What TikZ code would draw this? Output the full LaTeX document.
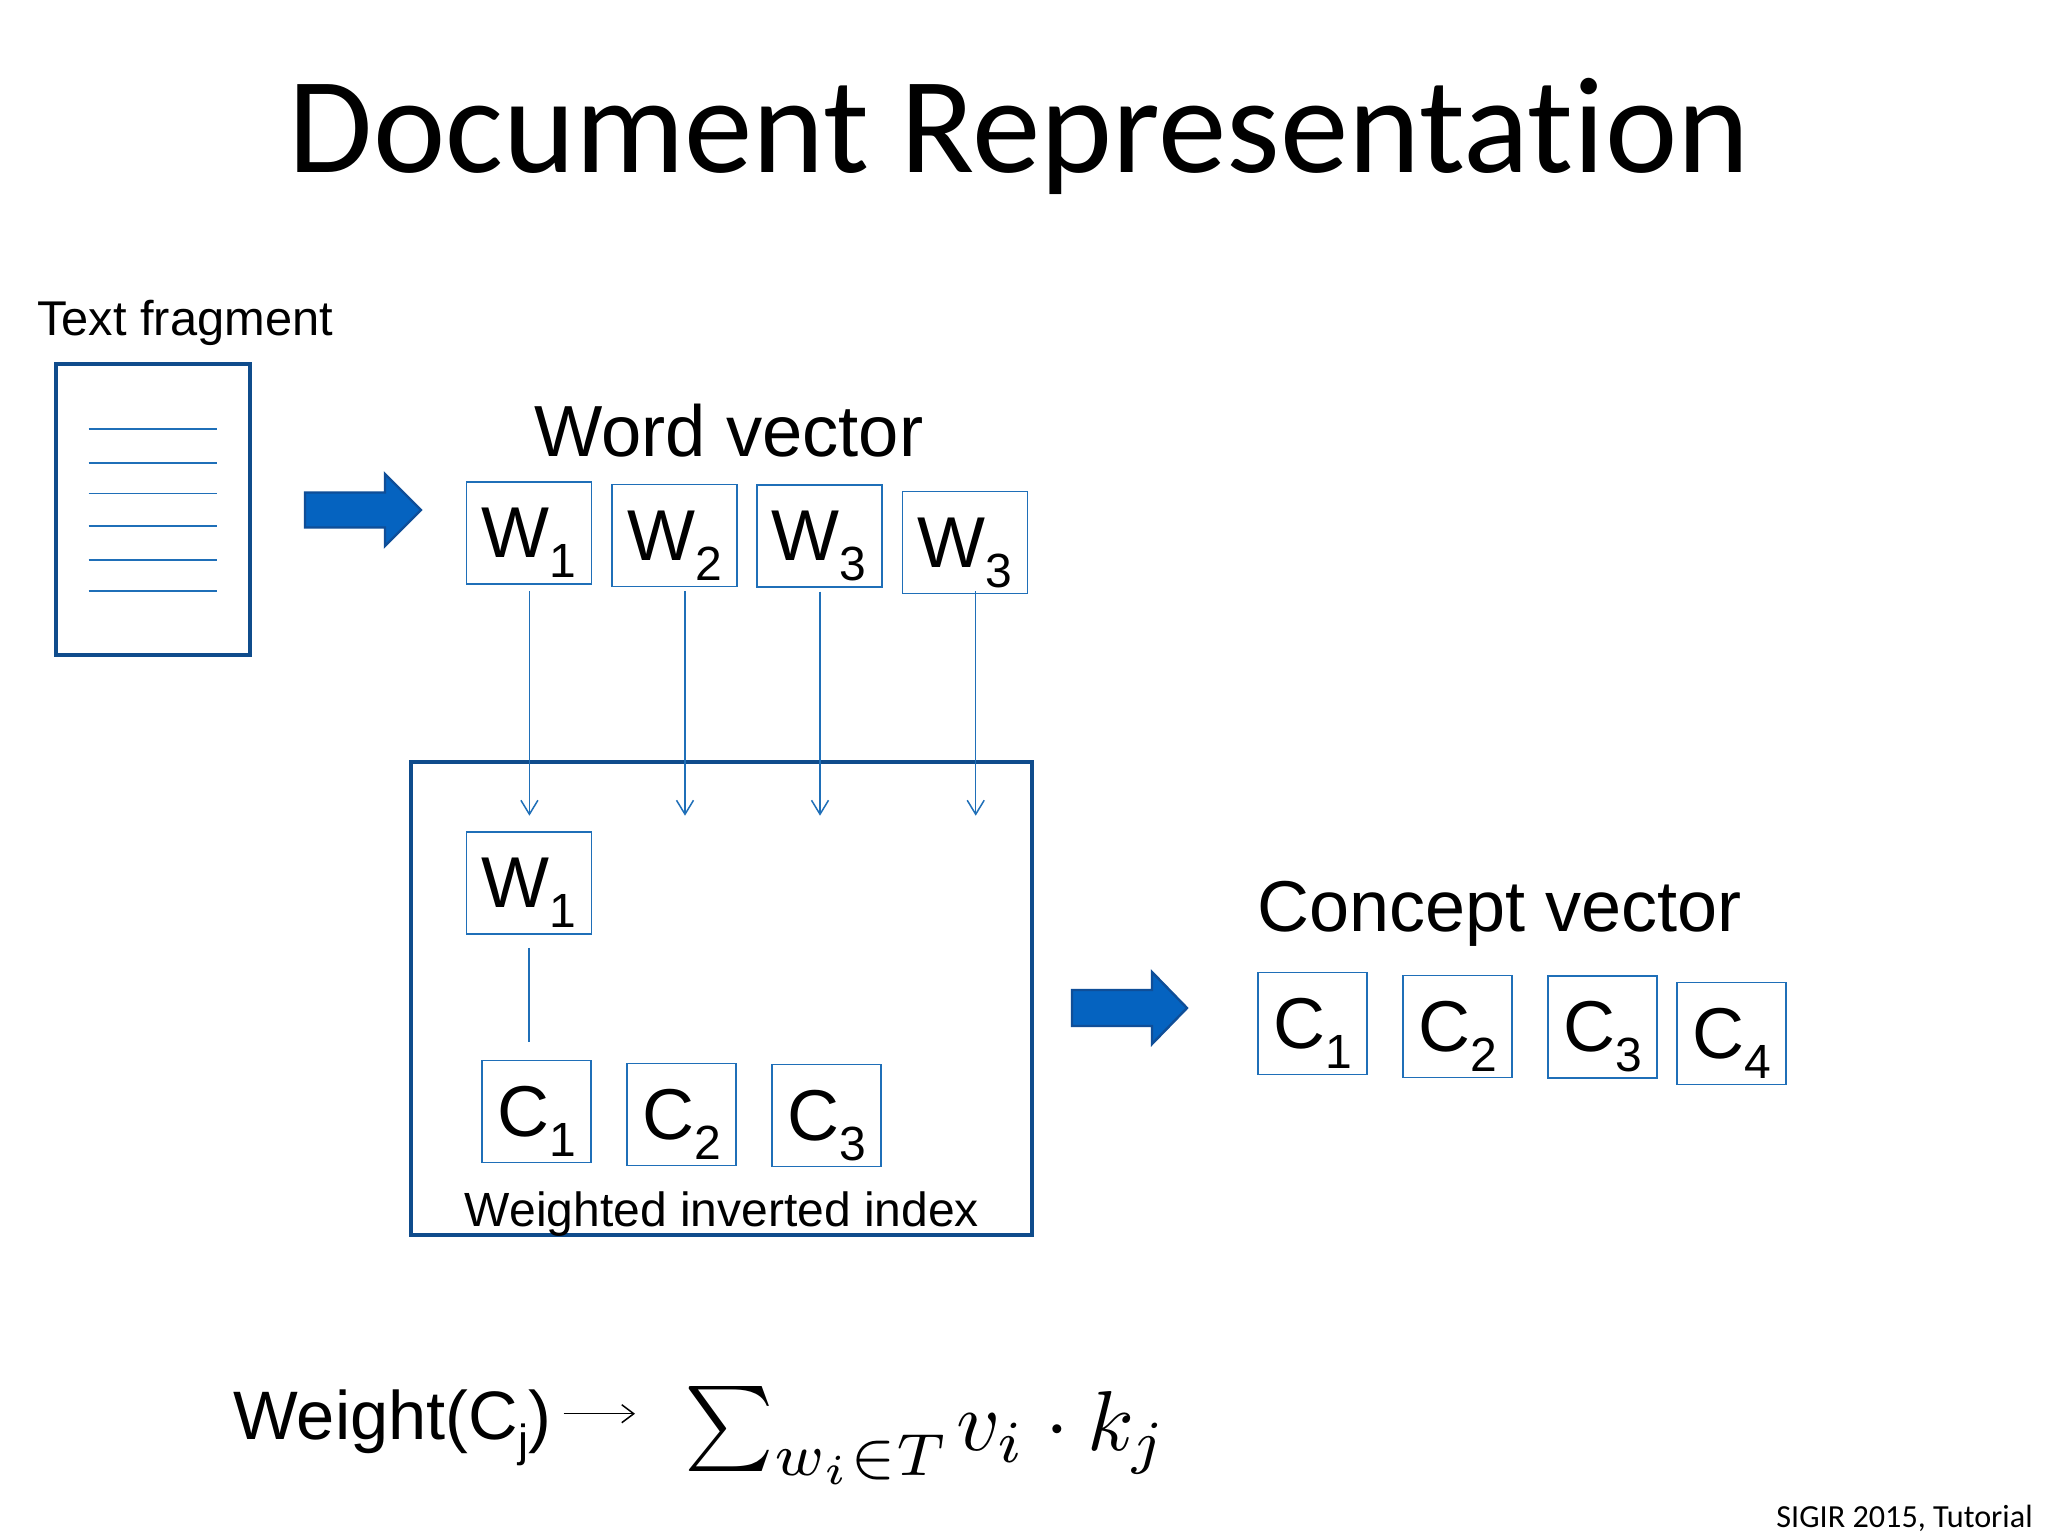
\documentclass[tikz,border=0pt]{standalone}
\usepackage{fontspec}
\setmainfont{Liberation Sans}
\newfontfamily\calib[Ligatures=NoCommon]{Carlito}
\usetikzlibrary{arrows.meta,calc}
\definecolor{thickblue}{HTML}{0F4C8C}
\definecolor{thinblue}{HTML}{1F6FB8}
\definecolor{arrowfill}{HTML}{0563C0}
\definecolor{arrowedge}{HTML}{0F4E98}
\newcommand{\sizedtext}[1]{\fontsize{#1}{#1}\selectfont}
\newcommand{\subbed}[2]{\sizedtext{36}#1\raisebox{-10pt}{\sizedtext{24}#2}}
\tikzset{
  x=0.5pt,y=-0.5pt,
  vecbox/.style={draw=thinblue,line width=0.75pt,inner sep=0pt,minimum height=51pt,text height=24.5pt,text depth=0pt,align=center},
  wbox/.style={vecbox,minimum width=62.5pt},
  cbox/.style={vecbox,minimum width=54.5pt},
  thickbox/.style={draw=thickblue,line width=1.8pt,fill=none},
  thinline/.style={draw=thinblue,line width=0.75pt},
  conn/.style={thinline,-{Straight Barb[length=7pt,width=8.5pt,line width=0.75pt]}},
  block/.style={fill=arrowfill,draw=arrowedge,line width=1.2pt,line join=miter},
  label/.style={inner sep=0pt,anchor=base west}
}
\begin{document}
\begin{tikzpicture}
\useasboundingbox (0,0) rectangle (2048,1536);
\fill[white] (0,0) rectangle (2048,1536);

\node[inner sep=0pt,anchor=base] (title) at (1019,172) {\calib\sizedtext{68.5}Document Representation};
\node[label] (tf) at (37,335) {\sizedtext{24.4}Text fragment};

% document
\node[thickbox,inner sep=0pt,minimum width=97pt,minimum height=145.5pt] (doc) at (153,509.5) {};
\foreach \i/\yy in {1/429,2/463,3/493.6,4/526,5/560,6/591}{
  \coordinate (la\i) at (88.6,\yy);
  \coordinate (lb\i) at (217,\yy);
  \draw[thinline] (la\i) -- (lb\i);
}

% block arrows
\draw[block] (305,492.5) -- (385,492.5) -- (385,474) -- (421,510) -- (385,546) -- (385,527.5) -- (305,527.5) -- cycle;
\draw[block] (1072,990) -- (1152,990) -- (1152,972) -- (1187,1008) -- (1152,1044) -- (1152,1026) -- (1072,1026) -- cycle;

\node[label] (wv) at (534,456) {\sizedtext{36.2}Word vector};
\node[wbox] (w1) at (529,533) {\subbed{W}{1}};
\node[wbox] (w2) at (674.5,535.7) {\subbed{W}{2}};
\node[wbox] (w3) at (819.3,536.2) {\subbed{W}{3}};
\node[wbox] (w4) at (964.8,542.5) {\subbed{W}{3}};

% inverted index
\node[thickbox,inner sep=0pt,minimum width=310.5pt,minimum height=236.5pt] (idx) at (721.5,998.5) {};
\node[inner sep=0pt,anchor=base] (wii) at (722,1226) {\sizedtext{24}Weighted inverted index};
\node[wbox] (wl) at (529,883) {\subbed{W}{1}};
\node[cbox] (c1) at (536.5,1111.5) {\subbed{C}{1}};
\node[cbox] (c2) at (681.5,1114.5) {\subbed{C}{2}};
\node[cbox] (c3) at (826.5,1115.5) {\subbed{C}{3}};
\draw[thinline,shorten <=6.5pt,shorten >=8.8pt] (wl.south) -- (wl.south |- c1.north);

\coordinate (e1) at (529.4,815.7);
\coordinate (e2) at (685,815.7);
\coordinate (e3) at (820,815.7);
\coordinate (e4) at (975.7,815.7);
\coordinate (s1) at (w1.south -| e1);
\coordinate (s2) at (w2.south -| e2);
\coordinate (s3) at (w3.south -| e3);
\coordinate (s4) at (w4.south -| e4);
\draw[conn,shorten <=3.3pt] (s1) -- (e1);
\draw[conn,shorten <=1.9pt] (s2) -- (e2);
\draw[conn,shorten <=1.8pt] (s3) -- (e3);
\draw[conn,shorten <=-1.4pt] (s4) -- (e4);

% concept vector
\node[label] (cv) at (1257,931.5) {\sizedtext{36}Concept vector};
\node[cbox] (d1) at (1312.5,1023.7) {\subbed{C}{1}};
\node[cbox] (d2) at (1457.5,1026.5) {\subbed{C}{2}};
\node[cbox] (d3) at (1602.5,1027) {\subbed{C}{3}};
\node[cbox] (d4) at (1731.5,1033.5) {\subbed{C}{4}};

% weight formula
\node[label] (wt) at (233,1439) {\sizedtext{34.3}Weight(C\raisebox{-8.5pt}{\sizedtext{22.5}j})};
\coordinate (aw) at (563.5,1413.7);
\coordinate (af) at (635,1413.7);
\draw[black,line width=0.75pt,-{Straight Barb[length=6pt,width=9pt,line width=0.75pt]}] (aw) -- (af);
\node[label] (fm) at (684,1450) {\scalebox{4.25}{$\sum_{w_i\in T}\mkern-1.5mu v_i\cdot k_j$}};

\node[inner sep=0pt,anchor=base east] (cr) at (2033,1527) {\calib\sizedtext{16.1}SIGIR 2015, Tutorial};
\end{tikzpicture}
\end{document}
